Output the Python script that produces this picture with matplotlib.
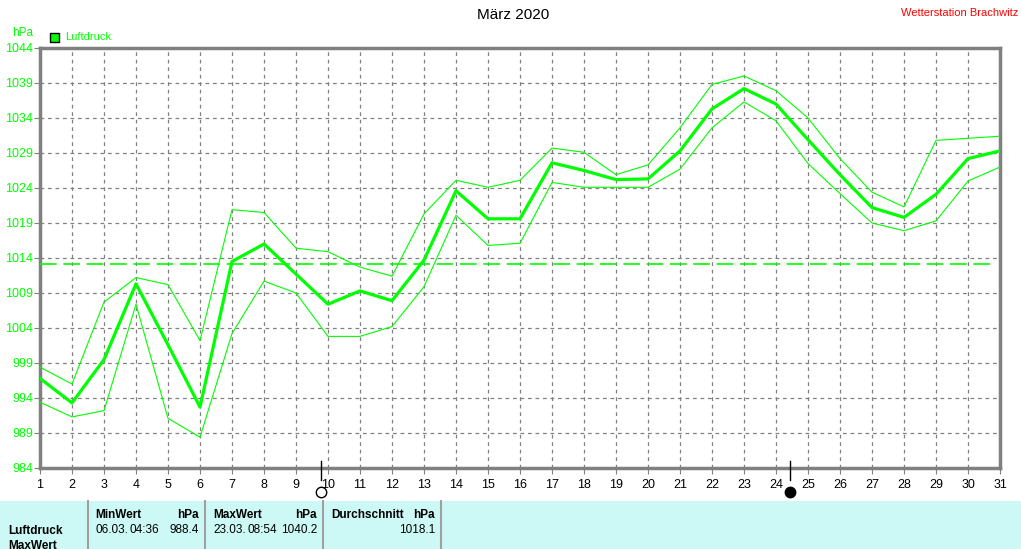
import numpy as np
import matplotlib
matplotlib.use('Agg')
import matplotlib.pyplot as plt

plt.rcParams['font.family'] = ['Liberation Sans', 'DejaVu Sans']

days = list(range(1, 32))
mean_hpa = [996.8, 993.3, 999.5, 1010.3, 1001.6, 992.7, 1013.5, 1016.0, 1011.7, 1007.4,
            1009.3, 1007.9, 1013.7, 1023.6, 1019.6, 1019.6, 1027.6, 1026.5, 1025.2, 1025.3,
            1029.3, 1035.3, 1038.2, 1036.0, 1030.9, 1025.9, 1021.2, 1019.8, 1023.1, 1028.2, 1029.3]
max_hpa = [998.4, 996.0, 1007.7, 1011.2, 1010.2, 1002.2, 1020.9, 1020.5, 1015.4, 1014.9,
           1012.7, 1011.4, 1020.3, 1025.1, 1024.1, 1025.1, 1029.7, 1029.1, 1025.9, 1027.3,
           1032.6, 1038.8, 1040.0, 1037.9, 1034.0, 1028.2, 1023.4, 1021.3, 1030.8, 1031.1, 1031.4]
min_hpa = [993.4, 991.3, 992.2, 1007.4, 991.1, 988.4, 1003.2, 1010.7, 1009.0, 1002.8,
           1002.8, 1004.2, 1009.9, 1020.1, 1015.8, 1016.1, 1024.8, 1024.1, 1024.1, 1024.1,
           1026.7, 1032.6, 1036.3, 1033.6, 1027.5, 1023.2, 1019.0, 1017.9, 1019.3, 1025.0, 1027.0]
avg_line = 1013.1
y_ticks = list(range(984, 1045, 5))
full_moon = 9.78
new_moon = 24.45

W, H = 1021, 549
fig = plt.figure(figsize=(W / 100, H / 100), dpi=100)
ax = fig.add_axes([40 / W, 81 / H, 960 / W, 420 / H])

green = '#00ff00'
grid_c = '#808080'

ax.plot(days, max_hpa, color=green, lw=0.8, zorder=3)
ax.plot(days, min_hpa, color=green, lw=0.8, zorder=3)
ax.plot(days, mean_hpa, color=green, lw=2.3, zorder=4)
ax.plot([1, 30.7], [avg_line, avg_line], color=green, lw=1.2, dashes=(10, 4), zorder=3)

ax.set_xlim(1, 31)
ax.set_ylim(984, 1044)
ax.set_xticks(days)
ax.set_yticks(y_ticks)
ax.grid(True, color=grid_c, linestyle=(0, (3, 3)), lw=0.9)
for s in ax.spines.values():
    s.set_color(grid_c)
    s.set_linewidth(2.5)
ax.tick_params(axis='x', length=4, width=0.8, color=grid_c, labelsize=9, pad=4)
ax.tick_params(axis='y', length=4, width=0.8, color=grid_c, labelsize=9, labelcolor=green, pad=1)

# Mondphasen
for d, face in [(full_moon, 'white'), (new_moon, 'black')]:
    ax.plot([d, d], [982.3, 985.0], color='black', lw=1, clip_on=False, zorder=5)
    ax.plot(d, 980.5, marker='o', ms=7.5, mfc=face, mec='black', mew=1, clip_on=False, zorder=5)

fig.text(513 / W, 1 - 15 / H, 'März 2020', ha='center', va='center', fontsize=11)
fig.text(1018 / W, 1 - 13 / H, 'Wetterstation Brachwitz', ha='right', va='center',
         fontsize=8, color='red')
fig.text(12 / W, 1 - 33 / H, 'hPa', ha='left', va='center', fontsize=8.5, color=green)
fig.patches.append(plt.Rectangle((50 / W, 1 - 42 / H), 9 / W, 9 / H, transform=fig.transFigure,
                                 facecolor=green, edgecolor='black', lw=1))
fig.text(65 / W, 1 - 37.5 / H, 'Luftdruck', ha='left', va='center', fontsize=8, color=green)

# Tabelle unten
fig.patches.append(plt.Rectangle((0, 0), 1, 48 / H, transform=fig.transFigure,
                                 facecolor='#ccf9f6', edgecolor='none'))
for sx in [88, 205, 323, 441]:
    fig.add_artist(plt.Line2D([sx / W, sx / W], [0, 48 / H], transform=fig.transFigure,
                              color='#a0a0a0', lw=1.5))

def t(x, y, s, ha='left', bold=False):
    fig.text(x / W, 1 - y / H, s, ha=ha, va='center', fontsize=8.5,
             fontweight='bold' if bold else 'normal')

t(8, 531, 'Luftdruck', bold=True)
t(8, 546, 'MaxWert', bold=True)
t(95, 515, 'MinWert', bold=True)
t(199, 515, 'hPa', ha='right', bold=True)
t(95, 530, '06.03.')
t(129, 530, '04:36')
t(199, 530, '988.4', ha='right')
t(213, 515, 'MaxWert', bold=True)
t(317, 515, 'hPa', ha='right', bold=True)
t(213, 530, '23.03.')
t(247, 530, '08:54')
t(317, 530, '1040.2', ha='right')
t(331, 515, 'Durchschnitt', bold=True)
t(435, 515, 'hPa', ha='right', bold=True)
t(435, 530, '1018.1', ha='right')

fig.savefig('out.png', dpi=100)
